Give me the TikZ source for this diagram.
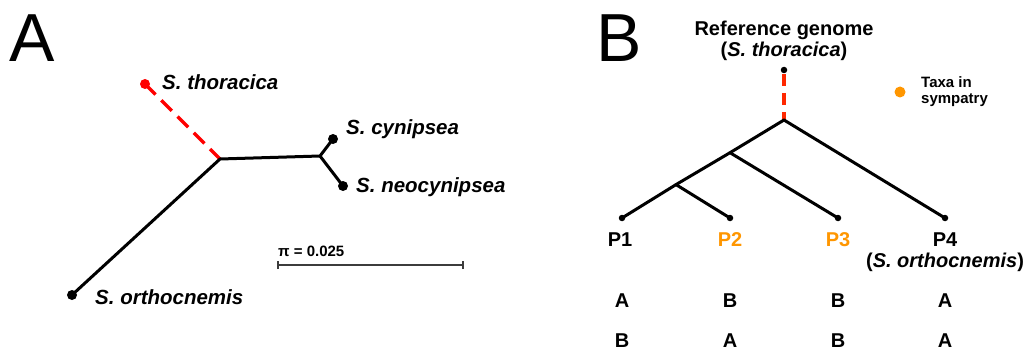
\documentclass[tikz,border=0pt]{standalone}
\usepackage{fontspec}
\setmainfont{Liberation Sans}
\definecolor{treered}{RGB}{255,0,0}
\definecolor{refred}{RGB}{255,40,0}
\definecolor{symorange}{RGB}{255,150,0}
\definecolor{bargray}{RGB}{60,60,60}
\begin{document}
\begin{tikzpicture}[x=1pt,y=-1pt,
  branch/.style={line width=3pt,line cap=round,line join=round},
  refbranch/.style={line width=3.2pt,dash pattern=on 15pt off 8pt},
  tipdot/.style={circle,fill=black,inner sep=0pt,minimum size=10pt},
  smalldot/.style={circle,fill=black,inner sep=0pt,minimum size=6.5pt},
  taxon/.style={font=\fontsize{20.5}{24}\selectfont\bfseries\itshape,inner sep=0pt},
  plabel/.style={font=\fontsize{20}{21}\selectfont\bfseries,inner sep=0pt},
  panel/.style={font=\fontsize{68}{70}\selectfont,inner sep=0pt}]
\useasboundingbox (0,0) rectangle (1027,350);

% ---- panel A: unrooted tree ----
\node[panel,anchor=base west] (labA) at (9,62) {A};
\coordinate (j1) at (220,159);
\coordinate (j2) at (320,156);
\node[tipdot,fill=treered] (thor) at (145,84) {};
\node[tipdot] (cyn) at (333,139) {};
\node[tipdot] (neo) at (343,186) {};
\node[tipdot] (orth) at (72,295) {};
\draw[refbranch,color=treered] (thor.center) -- (j1);
\draw[branch] (orth.center) -- (j1) -- (j2) -- (cyn.center);
\draw[branch] (j2) -- (neo.center);
\node[taxon,anchor=base west] (tthor) at (162,90) {S. thoracica};
\node[taxon,anchor=base west] (tcyn) at (346,135) {S. cynipsea};
\node[taxon,anchor=base west] (tneo) at (356,192) {S. neocynipsea};
\node[taxon,anchor=base west] (torth) at (95,304) {S. orthocnemis};

% scale bar
\node[font=\fontsize{15}{16}\selectfont\bfseries,inner sep=0pt,anchor=base west] (pi) at (278,256) {π = 0.025};
\coordinate (sb1) at (278,265);
\coordinate (sb2) at (463,265);
\draw[bargray,line width=1.2pt] (sb1) -- (sb2);
\draw[bargray,line width=1.2pt] ([yshift=-4pt]sb1) -- ([yshift=4pt]sb1);
\draw[bargray,line width=1.2pt] ([yshift=-4pt]sb2) -- ([yshift=4pt]sb2);

% ---- panel B: rooted four-taxon tree ----
\node[panel,anchor=base west] (labB) at (596,62) {B};
\node[plabel,anchor=base] (ref1) at (784,36) {Reference genome};
\node[plabel,anchor=base] (ref2) at (784,57) {(\textit{S. thoracica})};
\node[smalldot] (top) at (784,70) {};
\coordinate (root) at (784,120);
\coordinate (n2) at (730,152.7);
\coordinate (n1) at (676,184.6);
\node[smalldot] (p1) at (622,218) {};
\node[smalldot] (p2) at (730,218) {};
\node[smalldot] (p3) at (838,218) {};
\node[smalldot] (p4) at (945,218) {};
\draw[line width=3.2pt,color=refred,dash pattern=on 12pt off 7pt,dash phase=-4pt] (top.center) -- (root);
\draw[branch] (p1.center) -- (n1) -- (n2) -- (root) -- (p4.center);
\draw[branch] (n1) -- (p2.center);
\draw[branch] (n2) -- (p3.center);

\node[plabel,anchor=base] (l1) at (620,246) {P1};
\node[plabel,anchor=base,text=symorange] (l2) at (730,246) {P2};
\node[plabel,anchor=base,text=symorange] (l3) at (838,246) {P3};
\node[plabel,anchor=base] (l4) at (945,246) {P4};
\node[plabel,anchor=base] (l4b) at (945,267) {(\textit{S. orthocnemis})};

% site patterns
\node[plabel,anchor=base] (a1) at (622,307) {A};
\node[plabel,anchor=base] (a2) at (730,307) {B};
\node[plabel,anchor=base] (a3) at (838,307) {B};
\node[plabel,anchor=base] (a4) at (945,307) {A};
\node[plabel,anchor=base] (b1) at (622,347) {B};
\node[plabel,anchor=base] (b2) at (730,347) {A};
\node[plabel,anchor=base] (b3) at (838,347) {B};
\node[plabel,anchor=base] (b4) at (945,347) {A};

% legend (base anchor of a two-line node sits on the last line)
\node[circle,fill=symorange,inner sep=0pt,minimum size=11pt] (ldot) at (900,92) {};
\node[font=\fontsize{15}{15.5}\selectfont\bfseries,inner sep=0pt,anchor=base west,align=left] (ltxt) at (921,103) {Taxa in\\sympatry};
\end{tikzpicture}
\end{document}
